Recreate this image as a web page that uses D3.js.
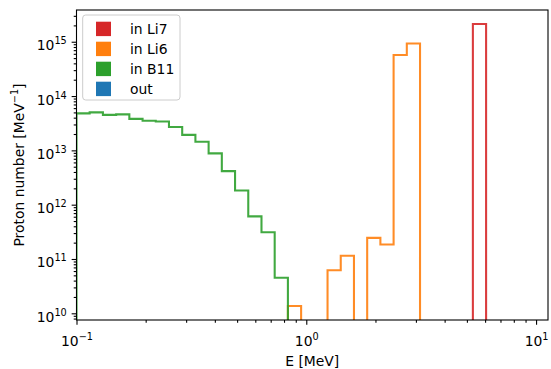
<!DOCTYPE html>
<html>
<head>
<meta charset="utf-8">
<script src="https://cdn.jsdelivr.net/npm/d3@7"></script>
<style>
  body { margin: 0; background: #fff; }
  text { font-family: "DejaVu Sans", sans-serif; }
</style>
</head>
<body>
<div id="chart"></div>
<script>
// bin edges of the energy histogram [MeV]
const binEdges = [0.1000, 0.1141, 0.1303, 0.1488, 0.1698, 0.1939, 0.2213, 0.2526,
  0.2884, 0.3292, 0.3758, 0.4290, 0.4898, 0.5591, 0.6383, 0.7286, 0.8318, 0.9495,
  1.0839, 1.2374, 1.4125, 1.6125, 1.8408, 2.1014, 2.3988, 2.7384, 3.1261, 3.5686,
  4.0738, 4.6506, 5.3088, 6.0605];

// counts per bin (0 = empty bin)
const countsB11 = [4.8e13, 5.0e13, 4.5e13, 4.6e13, 3.8e13, 3.5e13, 3.4e13, 2.7e13,
  1.93e13, 1.44e13, 8.8e12, 4.15e12, 1.83e12, 6.1e11, 3.1e11, 4.5e10,
  0, 0, 0, 0, 0, 0, 0, 0, 0, 0, 0, 0, 0, 0, 0];
const countsLi6 = [0, 0, 0, 0, 0, 0, 0, 0, 0, 0, 0, 0, 0, 0, 0, 0,
  1.36e10, 0, 0, 6.2e10, 1.15e11, 0, 2.45e11, 1.85e11, 5.7e14, 9.3e14,
  0, 0, 0, 0, 0];
const countsLi7 = [0, 0, 0, 0, 0, 0, 0, 0, 0, 0, 0, 0, 0, 0, 0, 0,
  0, 0, 0, 0, 0, 0, 0, 0, 0, 0, 0, 0, 0, 0, 2.12e15];
const countsOut = [];

const legendLabels = ['in Li7', 'in Li6', 'in B11', 'out'];
const legendColors = ['#d62728', '#ff7f0e', '#2ca02c', '#1f77b4'];

const xMajorTicks = [0.1, 1, 10];
const yMajorTicks = [1e10, 1e11, 1e12, 1e13, 1e14, 1e15];

const boxWidth = 551;
const boxHeight = 369;
const plotLeft = 76.5, plotRight = 548, plotTop = 10, plotBottom = 320;
const fs = 13.9;
const majorLen = 4.86, minorLen = 2.78, pad = 4.86;

const svg = d3.select('#chart')
  .append('svg')
  .attr('width', boxWidth)
  .attr('height', boxHeight);

const xScale = d3.scaleLog()
  .domain([0.1, 11.27])
  .range([plotLeft, plotRight]);

const yScale = d3.scaleLog()
  .domain([7.53e9, 3.84e15])
  .range([plotBottom, plotTop]);

svg.append('clipPath')
  .attr('id', 'plot-clip')
  .append('rect')
  .attr('x', plotLeft).attr('y', plotTop)
  .attr('width', plotRight - plotLeft).attr('height', plotBottom - plotTop);

// step outline like matplotlib histtype='step'
function stepPoints(counts) {
  const pts = [];
  const base = 1e8;
  counts.forEach((c, i) => {
    if (!c) return;
    const prev = i > 0 ? counts[i - 1] : 0;
    if (!prev) pts.push({ gap: true }, [binEdges[i], base]);
    pts.push([binEdges[i], c], [binEdges[i + 1], c]);
    const next = counts[i + 1] || 0;
    if (!next) pts.push([binEdges[i + 1], base]);
  });
  return pts;
}

const line = d3.line()
  .defined(d => !d.gap)
  .x(d => xScale(d[0]))
  .y(d => yScale(d[1]));

const plot = svg.append('g').attr('clip-path', 'url(#plot-clip)');

const series = [
  { counts: countsOut, color: legendColors[3] },
  { counts: countsLi7, color: legendColors[0] },
  { counts: countsLi6, color: legendColors[1] },
  { counts: countsB11, color: legendColors[2] }
];

series.forEach(s => {
  if (!s.counts.length) return;
  plot.append('path')
    .datum(stepPoints(s.counts))
    .attr('fill', 'none')
    .attr('stroke', s.color)
    .attr('stroke-width', 2.08)
    .attr('stroke-opacity', 0.9)
    .attr('stroke-linejoin', 'miter')
    .attr('d', line);
});

// ***** axes *****
function supLabel(sel, exp) {
  sel.text('');
  sel.append('tspan').text('10');
  sel.append('tspan')
    .attr('dy', -6)
    .attr('font-size', fs * 0.7)
    .text(String(exp).replace('-', '\u2212'));
}

const xMinor = xScale.ticks().filter(t => !xMajorTicks.includes(t));
const yMinor = yScale.ticks().filter(t => !yMajorTicks.some(m => Math.abs(m - t) / m < 1e-6));

const xAxisGroup = svg.append('g')
  .attr('transform', `translate(0, ${plotBottom})`);
xAxisGroup.append('g')
  .call(d3.axisBottom(xScale).tickValues(xMinor).tickSize(minorLen).tickFormat(''));
xAxisGroup.append('g')
  .call(d3.axisBottom(xScale).tickValues(xMajorTicks).tickSize(majorLen).tickPadding(pad))
  .selectAll('text')
  .attr('y', 25.5)
  .attr('dy', 0)
  .attr('font-size', fs)
  .attr('fill', '#000')
  .each(function(d) { supLabel(d3.select(this), Math.round(Math.log10(d))); });

const yAxisGroup = svg.append('g')
  .attr('transform', `translate(${plotLeft}, 0)`);
yAxisGroup.append('g')
  .call(d3.axisLeft(yScale).tickValues(yMinor).tickSize(minorLen).tickFormat(''));
yAxisGroup.append('g')
  .call(d3.axisLeft(yScale).tickValues(yMajorTicks).tickSize(majorLen).tickPadding(pad))
  .selectAll('text')
  .attr('dy', 0)
  .attr('y', 8)
  .attr('font-size', fs)
  .attr('fill', '#000')
  .each(function(d) { supLabel(d3.select(this), Math.round(Math.log10(d))); });

svg.selectAll('.domain').remove();
svg.selectAll('.tick line')
  .attr('stroke', '#000')
  .attr('stroke-width', 1.1);

// frame
svg.append('rect')
  .attr('x', plotLeft).attr('y', plotTop)
  .attr('width', plotRight - plotLeft).attr('height', plotBottom - plotTop)
  .attr('fill', 'none')
  .attr('stroke', '#000')
  .attr('stroke-width', 1.1);

// axis titles
svg.append('text')
  .attr('x', (plotLeft + plotRight) / 2)
  .attr('y', 366)
  .attr('text-anchor', 'middle')
  .attr('font-size', fs)
  .text('E [MeV]');

const yTitle = svg.append('text')
  .attr('transform', `translate(23.5, ${(plotTop + plotBottom) / 2}) rotate(-90)`)
  .attr('text-anchor', 'middle')
  .attr('font-size', fs);
yTitle.append('tspan').text('Proton number [MeV');
yTitle.append('tspan').attr('dy', -6).attr('font-size', fs * 0.7).text('\u22121');
yTitle.append('tspan').attr('dy', 6).text(']');

// ***** legend *****
const legend = svg.append('g');
legend.append('rect')
  .attr('x', 82.7).attr('y', 15)
  .attr('width', 97.3).attr('height', 85)
  .attr('rx', 3)
  .attr('fill', '#fff')
  .attr('fill-opacity', 0.8)
  .attr('stroke', '#cccccc')
  .attr('stroke-width', 1);

const rows = legend.selectAll('g.row')
  .data(legendLabels)
  .enter()
  .append('g')
  .attr('class', 'row')
  .attr('transform', (d, i) => `translate(0, ${28.9 + i * 20})`);

rows.append('rect')
  .attr('x', 96).attr('y', -7.2)
  .attr('width', 15).attr('height', 14.4)
  .attr('fill', (d, i) => legendColors[i]);

rows.append('text')
  .attr('x', 130)
  .attr('y', 5)
  .attr('font-size', fs)
  .text(d => d);
</script>
</body>
</html>
